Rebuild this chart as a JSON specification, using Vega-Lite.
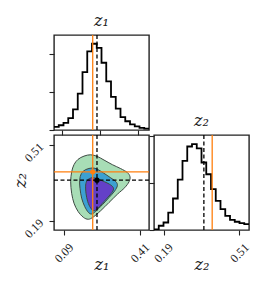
{
  "$schema": "https://vega.github.io/schema/vega-lite/v6.json",
  "background": "white",
  "padding": {"left": 11, "top": 12, "right": 5, "bottom": 5},
  "config": {
    "view": {"stroke": "#222", "strokeWidth": 1.4},
    "axis": {"grid": false, "domain": false, "tickColor": "#222", "tickSize": 5, "tickWidth": 1.1,
             "labelFont": "Liberation Serif", "labelFontSize": 12, "labelColor": "#222", "labelFlush": false, "labelOverlap": false,
             "titleFont": "DejaVu Serif", "titleFontStyle": "italic", "titleFontWeight": "normal", "titleFontSize": 16, "titleColor": "#222"},
    "title": {"font": "DejaVu Serif", "fontStyle": "italic", "fontWeight": "normal", "fontSize": 16, "color": "#222", "offset": 5}
  },
  "datasets": {
    "h1": [
      {"z1": 0.048, "density": 0.16}, {"z1": 0.068, "density": 0.25}, {"z1": 0.088, "density": 0.38},
      {"z1": 0.108, "density": 0.63}, {"z1": 0.128, "density": 1.09}, {"z1": 0.148, "density": 1.91},
      {"z1": 0.168, "density": 3.05}, {"z1": 0.188, "density": 4.14}, {"z1": 0.208, "density": 4.54},
      {"z1": 0.228, "density": 4.32}, {"z1": 0.248, "density": 3.54}, {"z1": 0.268, "density": 2.56},
      {"z1": 0.288, "density": 1.74}, {"z1": 0.308, "density": 1.12}, {"z1": 0.328, "density": 0.68},
      {"z1": 0.348, "density": 0.46}, {"z1": 0.368, "density": 0.30}, {"z1": 0.388, "density": 0.19},
      {"z1": 0.408, "density": 0.11}, {"z1": 0.428, "density": 0.07}, {"z1": 0.448, "density": 0.07}
    ],
    "h2": [
      {"z2": 0.15, "density": 0.03}, {"z2": 0.17, "density": 0.18}, {"z2": 0.19, "density": 0.32},
      {"z2": 0.21, "density": 0.74}, {"z2": 0.23, "density": 1.34}, {"z2": 0.25, "density": 2.14},
      {"z2": 0.27, "density": 2.94}, {"z2": 0.29, "density": 3.55}, {"z2": 0.31, "density": 3.65},
      {"z2": 0.33, "density": 3.47}, {"z2": 0.35, "density": 2.87}, {"z2": 0.37, "density": 2.37},
      {"z2": 0.39, "density": 1.74}, {"z2": 0.41, "density": 1.24}, {"z2": 0.43, "density": 0.89},
      {"z2": 0.45, "density": 0.60}, {"z2": 0.47, "density": 0.43}, {"z2": 0.49, "density": 0.35},
      {"z2": 0.51, "density": 0.29}, {"z2": 0.53, "density": 0.25}, {"z2": 0.55, "density": 0.25}
    ],
    "truth": [{"z1": 0.211, "z2": 0.395}],
    "est": [{"z1": 0.229, "z2": 0.36}],
    "c1": [
      {"i": 0, "z1": 0.2024, "z2": 0.4667}, {"i": 1, "z1": 0.1744, "z2": 0.4611}, {"i": 2, "z1": 0.1491, "z2": 0.4473},
      {"i": 3, "z1": 0.1322, "z2": 0.4251}, {"i": 4, "z1": 0.1224, "z2": 0.3947}, {"i": 5, "z1": 0.1182, "z2": 0.3531},
      {"i": 6, "z1": 0.1224, "z2": 0.3046}, {"i": 7, "z1": 0.1322, "z2": 0.2631}, {"i": 8, "z1": 0.1491, "z2": 0.2285},
      {"i": 9, "z1": 0.1716, "z2": 0.2035}, {"i": 10, "z1": 0.1926, "z2": 0.1952}, {"i": 11, "z1": 0.2137, "z2": 0.2049},
      {"i": 12, "z1": 0.2446, "z2": 0.2312}, {"i": 13, "z1": 0.2797, "z2": 0.2658}, {"i": 14, "z1": 0.3148, "z2": 0.3005},
      {"i": 15, "z1": 0.3457, "z2": 0.3282}, {"i": 16, "z1": 0.3639, "z2": 0.3531}, {"i": 17, "z1": 0.3681, "z2": 0.3739},
      {"i": 18, "z1": 0.3569, "z2": 0.3919}, {"i": 19, "z1": 0.3288, "z2": 0.4085}, {"i": 20, "z1": 0.2937, "z2": 0.4251},
      {"i": 21, "z1": 0.2586, "z2": 0.4445}, {"i": 22, "z1": 0.2305, "z2": 0.4597}
    ],
    "c2": [
      {"i": 0, "z1": 0.2095, "z2": 0.4113}, {"i": 1, "z1": 0.1814, "z2": 0.4043}, {"i": 2, "z1": 0.1631, "z2": 0.3877},
      {"i": 3, "z1": 0.1561, "z2": 0.3600}, {"i": 4, "z1": 0.1575, "z2": 0.3254}, {"i": 5, "z1": 0.1645, "z2": 0.2839},
      {"i": 6, "z1": 0.1772, "z2": 0.2492}, {"i": 7, "z1": 0.1926, "z2": 0.2243}, {"i": 8, "z1": 0.2067, "z2": 0.2174},
      {"i": 9, "z1": 0.2235, "z2": 0.2284}, {"i": 10, "z1": 0.2516, "z2": 0.2562}, {"i": 11, "z1": 0.2797, "z2": 0.2866},
      {"i": 12, "z1": 0.3035, "z2": 0.3143}, {"i": 13, "z1": 0.3148, "z2": 0.3365}, {"i": 14, "z1": 0.3091, "z2": 0.3531},
      {"i": 15, "z1": 0.2867, "z2": 0.3697}, {"i": 16, "z1": 0.2558, "z2": 0.3905}, {"i": 17, "z1": 0.2305, "z2": 0.4057}
    ],
    "c3": [
      {"i": 0, "z1": 0.2052, "z2": 0.3697}, {"i": 1, "z1": 0.1884, "z2": 0.3600}, {"i": 2, "z1": 0.1814, "z2": 0.3393},
      {"i": 3, "z1": 0.1828, "z2": 0.3046}, {"i": 4, "z1": 0.1898, "z2": 0.2700}, {"i": 5, "z1": 0.2024, "z2": 0.2423},
      {"i": 6, "z1": 0.2165, "z2": 0.2312}, {"i": 7, "z1": 0.2333, "z2": 0.2423}, {"i": 8, "z1": 0.2586, "z2": 0.2700},
      {"i": 9, "z1": 0.2839, "z2": 0.2977}, {"i": 10, "z1": 0.2979, "z2": 0.3185}, {"i": 11, "z1": 0.2951, "z2": 0.3324},
      {"i": 12, "z1": 0.2754, "z2": 0.3462}, {"i": 13, "z1": 0.2446, "z2": 0.3600}, {"i": 14, "z1": 0.2235, "z2": 0.3683}
    ]
  },
  "bounds": "flush",
  "spacing": 5,
  "vconcat": [
    {
      "width": 95, "height": 95,
      "title": "z₁",
      "layer": [
        {
          "data": {"name": "h1"},
          "mark": {"type": "line", "interpolate": "step-after", "color": "black", "strokeWidth": 1.8, "clip": true},
          "encoding": {
            "x": {"field": "z1", "type": "quantitative", "scale": {"domain": [0.048, 0.448], "nice": false, "zero": false},
                  "axis": {"values": [0.08, 0.16, 0.24, 0.32, 0.4], "labels": false, "title": null}},
            "y": {"field": "density", "type": "quantitative", "scale": {"domain": [0, 5], "nice": false},
                  "axis": {"values": [0, 2, 4], "labels": false, "title": null}}
          }
        },
        {"data": {"name": "truth"}, "mark": {"type": "rule", "color": "#ff7f0e", "strokeWidth": 1.3},
         "encoding": {"x": {"field": "z1", "type": "quantitative"}}},
        {"data": {"name": "est"}, "mark": {"type": "rule", "color": "black", "strokeWidth": 1.3, "strokeDash": [4, 2.5]},
         "encoding": {"x": {"field": "z1", "type": "quantitative"}}}
      ]
    },
    {
      "bounds": "flush",
      "spacing": 5,
      "hconcat": [
        {
          "width": 95, "height": 95,
          "layer": [
            {
              "data": {"name": "c1"},
              "mark": {"type": "line", "interpolate": "cardinal-closed", "fill": "#a8ddb6", "stroke": "#3e4a43", "strokeWidth": 1, "clip": true},
              "encoding": {
                "x": {"field": "z1", "type": "quantitative", "scale": {"domain": [0.048, 0.448], "nice": false, "zero": false},
                      "axis": {"values": [0.09, 0.41], "format": ".2f", "labelAngle": -45, "labelAlign": "right", "labelBaseline": "middle", "labelPadding": 10, "labelOffset": 7,
                               "title": "z₁", "titleY": 34, "titleBaseline": "middle"}},
                "y": {"field": "z2", "type": "quantitative", "scale": {"domain": [0.15, 0.55], "nice": false, "zero": false},
                      "axis": {"values": [0.19, 0.51], "format": ".2f", "labelAngle": -45, "labelAlign": "right", "labelBaseline": "middle", "labelPadding": 8,
                               "title": "z₂", "titleX": -34, "titleY": 45, "titleAngle": -90, "titleAlign": "center", "titleBaseline": "middle"}},
                "order": {"field": "i", "type": "quantitative"}
              }
            },
            {
              "data": {"name": "c2"},
              "mark": {"type": "line", "interpolate": "cardinal-closed", "fill": "#3ca0d2", "stroke": "#3e4a43", "strokeWidth": 1, "clip": true},
              "encoding": {
                "x": {"field": "z1", "type": "quantitative"},
                "y": {"field": "z2", "type": "quantitative"},
                "order": {"field": "i", "type": "quantitative"}
              }
            },
            {
              "data": {"name": "c3"},
              "mark": {"type": "line", "interpolate": "cardinal-closed", "fill": "#6440c8", "stroke": "#3e4a43", "strokeWidth": 1, "clip": true},
              "encoding": {
                "x": {"field": "z1", "type": "quantitative"},
                "y": {"field": "z2", "type": "quantitative"},
                "order": {"field": "i", "type": "quantitative"}
              }
            },
            {"data": {"name": "truth"}, "mark": {"type": "rule", "color": "#ff7f0e", "strokeWidth": 1.3},
             "encoding": {"x": {"field": "z1", "type": "quantitative"}}},
            {"data": {"name": "truth"}, "mark": {"type": "rule", "color": "#ff7f0e", "strokeWidth": 1.3},
             "encoding": {"y": {"field": "z2", "type": "quantitative"}}},
            {"data": {"name": "est"}, "mark": {"type": "rule", "color": "black", "strokeWidth": 1.3, "strokeDash": [4, 2.5]},
             "encoding": {"x": {"field": "z1", "type": "quantitative"}}},
            {"data": {"name": "est"}, "mark": {"type": "rule", "color": "black", "strokeWidth": 1.3, "strokeDash": [4, 2.5]},
             "encoding": {"y": {"field": "z2", "type": "quantitative"}}},
            {"data": {"name": "truth"}, "mark": {"type": "point", "filled": true, "color": "#ff7f0e", "size": 28, "opacity": 1},
             "encoding": {"x": {"field": "z1", "type": "quantitative"}, "y": {"field": "z2", "type": "quantitative"}}},
            {"data": {"name": "est"}, "mark": {"type": "point", "filled": true, "color": "black", "size": 28, "opacity": 1},
             "encoding": {"x": {"field": "z1", "type": "quantitative"}, "y": {"field": "z2", "type": "quantitative"}}}
          ]
        },
        {
          "width": 95, "height": 95,
          "title": "z₂",
          "layer": [
            {
              "data": {"name": "h2"},
              "mark": {"type": "line", "interpolate": "step-after", "color": "black", "strokeWidth": 1.8, "clip": true},
              "encoding": {
                "x": {"field": "z2", "type": "quantitative", "scale": {"domain": [0.15, 0.55], "nice": false, "zero": false},
                      "axis": {"values": [0.19, 0.51], "format": ".2f", "labelAngle": -45, "labelAlign": "right", "labelBaseline": "middle", "labelPadding": 10, "labelOffset": 7,
                               "title": "z₂", "titleY": 34, "titleBaseline": "middle"}},
                "y": {"field": "density", "type": "quantitative", "scale": {"domain": [0, 4.04], "nice": false},
                      "axis": {"values": [0, 2, 4], "labels": false, "title": null}}
              }
            },
            {"data": {"name": "truth"}, "mark": {"type": "rule", "color": "#ff7f0e", "strokeWidth": 1.3},
             "encoding": {"x": {"field": "z2", "type": "quantitative"}}},
            {"data": {"name": "est"}, "mark": {"type": "rule", "color": "black", "strokeWidth": 1.3, "strokeDash": [4, 2.5]},
             "encoding": {"x": {"field": "z2", "type": "quantitative"}}}
          ]
        }
      ]
    }
  ]
}
